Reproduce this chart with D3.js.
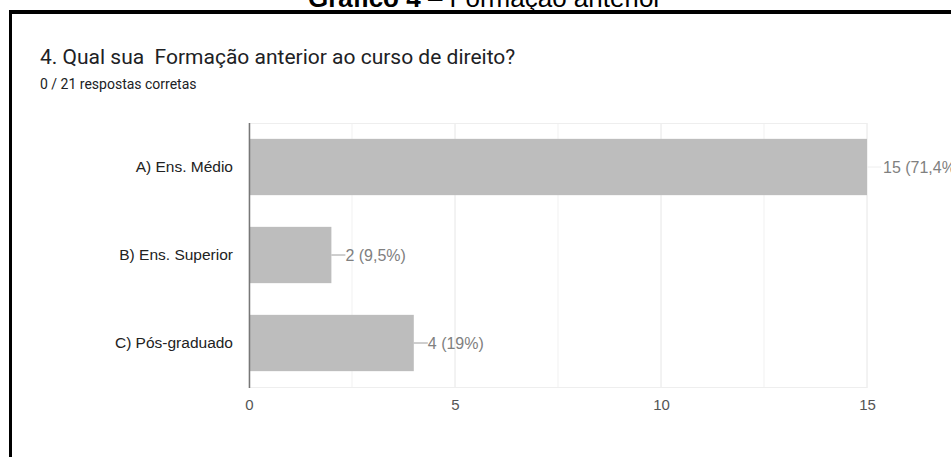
<!DOCTYPE html>
<html>
<head>
<meta charset="utf-8">
<script src="https://cdn.jsdelivr.net/npm/d3@7"></script>
<style>
  html, body { margin: 0; padding: 0; background: #fff; }
  svg { display: block; }
</style>
</head>
<body>
<svg id="chart" width="951" height="457"></svg>
<script>
const categories = ["A) Ens. Médio", "B) Ens. Superior", "C) Pós-graduado"];
const counts = [15, 2, 4];
const percentLabels = ["71,4%", "9,5%", "19%"];
const xTicks = [0, 5, 10, 15];
const gridValues = [0, 2.5, 5, 7.5, 10, 12.5, 15];
const captionBold = "Gráfico 4";
const captionRest = " – Formação anterior";
const titleText = "4. Qual sua  Formação anterior ao curso de direito?";
const subtitleText = "0 / 21 respostas corretas";

const svg = d3.select("#chart");

// Caption (cut off at top)
const cap = svg.append("text")
  .attr("x", 485).attr("y", 7)
  .attr("text-anchor", "middle")
  .attr("font-family", "'Liberation Sans', Arial, sans-serif")
  .attr("font-size", 26)
  .attr("fill", "#000");
cap.append("tspan").attr("font-weight", "bold").text(captionBold);
cap.append("tspan").text(captionRest);

// Frame lines
svg.append("rect").attr("x", 9).attr("y", 10).attr("width", 942).attr("height", 4).attr("fill", "#000");
svg.append("rect").attr("x", 9).attr("y", 10).attr("width", 3).attr("height", 447).attr("fill", "#000");

// Title
svg.append("text")
  .attr("x", 40).attr("y", 64)
  .attr("font-family", "Roboto, Arial, sans-serif")
  .attr("font-size", 21)
  .attr("fill", "#202124")
  .attr("xml:space", "preserve")
  .style("white-space", "pre")
  .text(titleText);

svg.append("text")
  .attr("x", 40).attr("y", 89)
  .attr("font-family", "Roboto, Arial, sans-serif")
  .attr("font-size", 14)
  .attr("fill", "#202124")
  .text(subtitleText);

// Scales
const x = d3.scaleLinear().domain([0, 15]).range([249, 867]);
const y = d3.scaleBand().domain(categories).range([123, 387]).paddingInner(0.36).paddingOuter(0.18);

// Gridlines
svg.append("g").selectAll("line").data(gridValues).join("line")
  .attr("x1", d => x(d)).attr("x2", d => x(d))
  .attr("y1", 123).attr("y2", 388)
  .attr("stroke", d => (d % 5 === 0 ? "#e6e6e6" : "#f1f1f1"))
  .attr("stroke-width", 1);
svg.append("line")
  .attr("x1", 249).attr("x2", 867).attr("y1", 123.5).attr("y2", 123.5)
  .attr("stroke", "#eeeeee");
svg.append("line")
  .attr("x1", 249).attr("x2", 867).attr("y1", 387.5).attr("y2", 387.5)
  .attr("stroke", "#eeeeee");

// Bars
svg.append("g").selectAll("rect").data(counts).join("rect")
  .attr("x", x(0))
  .attr("y", (d, i) => y(categories[i]))
  .attr("width", d => x(d) - x(0))
  .attr("height", y.bandwidth())
  .attr("fill", "#bdbdbd");

// Baseline axis
svg.append("line")
  .attr("x1", 249.5).attr("x2", 249.5).attr("y1", 123).attr("y2", 388)
  .attr("stroke", "#777").attr("stroke-width", 1.5);

// Category labels
svg.append("g").selectAll("text").data(categories).join("text")
  .attr("x", 233)
  .attr("y", d => y(d) + y.bandwidth() / 2)
  .attr("dy", "0.35em")
  .attr("text-anchor", "end")
  .attr("font-family", "'Liberation Sans', Arial, sans-serif")
  .attr("font-size", 15.5)
  .attr("fill", "#222")
  .text(d => d);

// X axis tick labels
const xAxis = d3.axisBottom(x).tickValues(xTicks).tickSize(0).tickPadding(0);
const gx = svg.append("g").attr("transform", "translate(0,405)").call(xAxis);
gx.select(".domain").remove();
gx.selectAll("text")
  .attr("dy", "0.35em")
  .attr("font-family", "'Liberation Sans', Arial, sans-serif")
  .attr("font-size", 15)
  .attr("fill", "#555");

// Value annotations with stems
const ann = svg.append("g");
counts.forEach((v, i) => {
  const cy = y(categories[i]) + y.bandwidth() / 2;
  const x0 = x(v);
  ann.append("line")
    .attr("x1", x0).attr("x2", x0 + 14)
    .attr("y1", cy).attr("y2", cy)
    .attr("stroke", i === 0 ? "#eeeeee" : "#9e9e9e").attr("stroke-width", 1);
  ann.append("text")
    .attr("x", x0 + (i === 0 ? 16 : 14))
    .attr("y", cy)
    .attr("dy", "0.35em")
    .attr("font-family", "'Liberation Sans', Arial, sans-serif")
    .attr("font-size", 16)
    .attr("fill", "#808080")
    .text(v + " (" + percentLabels[i] + ")");
});
</script>
</body>
</html>
